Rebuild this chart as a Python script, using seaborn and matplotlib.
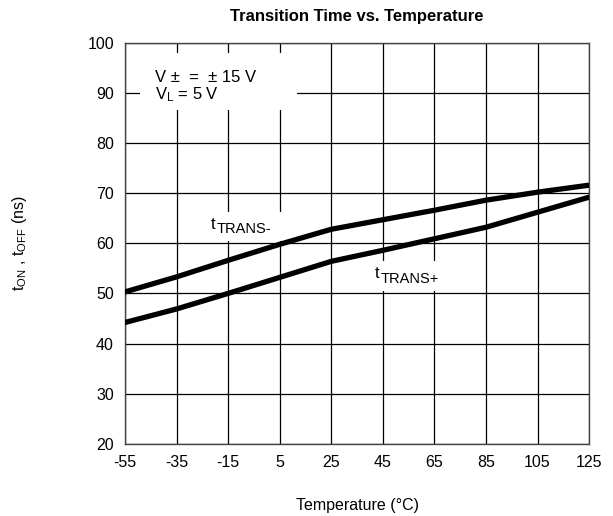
import matplotlib
matplotlib.use("Agg")
import matplotlib.pyplot as plt
import matplotlib.patches as mpatches
import seaborn as sns
import pandas as pd

temps = [-55, -35, -15, 5, 25, 45, 65, 85, 105, 125]
t_trans_minus = [50.3, 53.3, 56.6, 59.8, 62.8, 64.7, 66.6, 68.6, 70.2, 71.6]
t_trans_plus = [44.2, 46.9, 50.0, 53.2, 56.4, 58.6, 60.9, 63.2, 66.2, 69.2]
xticks = [-55, -35, -15, 5, 25, 45, 65, 85, 105, 125]
yticks = [20, 30, 40, 50, 60, 70, 80, 90, 100]

df = pd.DataFrame({
    "Temperature": temps * 2,
    "t": t_trans_minus + t_trans_plus,
    "series": ["TRANS-"] * len(temps) + ["TRANS+"] * len(temps),
})

sns.set_style("white")
plt.rcParams['font.family'] = ['Liberation Sans', 'DejaVu Sans']
plt.rcParams['text.color'] = 'black'
plt.rcParams['axes.labelcolor'] = 'black'
plt.rcParams['xtick.color'] = 'black'
plt.rcParams['ytick.color'] = 'black'
plt.rcParams['mathtext.fontset'] = 'custom'
plt.rcParams['mathtext.rm'] = 'Liberation Sans'
plt.rcParams['mathtext.it'] = 'Liberation Sans'

fig = plt.figure(figsize=(6.13, 5.16), dpi=100)
ax = fig.add_axes([0.204, 0.140, 0.757, 0.777])

sns.lineplot(data=df, x="Temperature", y="t", hue="series",
             palette={"TRANS-": "black", "TRANS+": "black"},
             linewidth=3.8, legend=False, ax=ax, zorder=3)

ax.set_xlim(-55, 125)
ax.set_ylim(20, 100)
ax.set_xticks(xticks)
ax.set_yticks(yticks)
ax.set_xticklabels([str(v) for v in xticks], fontsize=11.5)
ax.set_yticklabels([str(v) for v in yticks], fontsize=11.5)
ax.tick_params(axis='both', length=0, pad=8)
ax.grid(True, color='black', linewidth=0.9)
ax.set_axisbelow(True)
for s in ax.spines.values():
    s.set_color('#444444')
    s.set_linewidth(1.0)

ax.set_title("Transition Time vs. Temperature", fontsize=12, fontweight='bold', pad=16)
ax.set_xlabel("Temperature (°C)", fontsize=11.5, labelpad=20)
ax.set_ylabel("t$_{\\mathrm{ON}}$ , t$_{\\mathrm{OFF}}$ (ns)", fontsize=11.5, labelpad=42)

# white masks behind labels (interrupt gridlines)
ax.add_patch(mpatches.Rectangle((-49.2, 86.6), 60.9, 11.4, facecolor='white',
                                edgecolor='none', zorder=1.5))
ax.add_patch(mpatches.Rectangle((-23, 60.5), 30, 5.7, facecolor='white',
                                edgecolor='none', zorder=1.5))
ax.add_patch(mpatches.Rectangle((40, 50.5), 28, 6.0, facecolor='white',
                                edgecolor='none', zorder=1.5))

ax.text(-43.5, 93.0, "V ±  =  ± 15 V", fontsize=12, va='center', ha='left', zorder=2)
ax.text(-43.5, 89.7, "V$_{\\mathrm{L}}$ = 5 V", fontsize=12, va='center', ha='left', zorder=2)


def sub_label(x, y, main, sub):
    ax.annotate(main, (x, y), fontsize=12, ha='left', va='baseline', zorder=2)
    ax.annotate(sub, (x, y), xytext=(4.2, -3.2), textcoords='offset points',
                fontsize=10.5, ha='left', va='baseline', zorder=2)


sub_label(-21.8, 62.9, "t", "TRANS-")
sub_label(41.8, 53.0, "t", "TRANS+")

fig.savefig("out.png", dpi=100)
